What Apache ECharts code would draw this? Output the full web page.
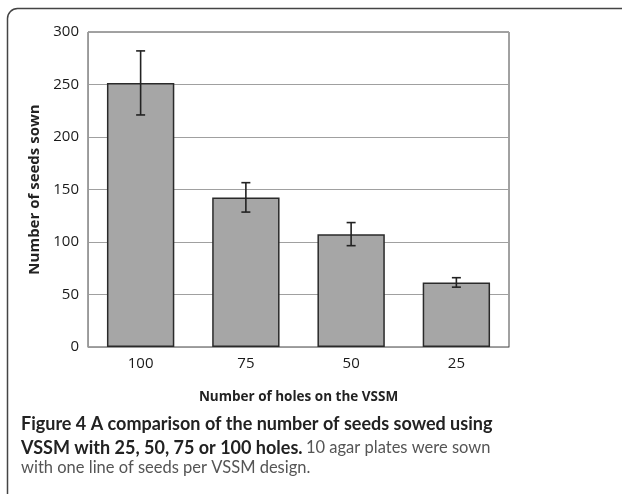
<!DOCTYPE html>
<html><head><meta charset="utf-8">
<script src="https://cdn.jsdelivr.net/npm/echarts@6/dist/echarts.min.js"></script>
<style>html,body{margin:0;padding:0;background:#fff}#c{width:622px;height:494px}</style>
</head><body><div id="c"></div>
<script>
const categories = ['100', '75', '50', '25'];
const means = [251.5, 142.5, 107.5, 61.5];
const errors = [30.5, 14, 11, 4.5];
const yTicks = [0, 50, 100, 150, 200, 250, 300];

const chart = echarts.init(document.getElementById('c'));
const font = '"Open Sans", "Noto Sans", sans-serif';
const capFont = 'Lato, "Open Sans", sans-serif';
chart.setOption({
  animation: false,
  grid: { left: 88, right: 113, top: 32, bottom: 147, show: true, borderColor: '#444', borderWidth: 1 },
  xAxis: {
    type: 'category', data: categories,
    axisLine: { lineStyle: { color: '#999', width: 1 } },
    axisTick: { show: false },
    axisLabel: { color: '#1a1a1a', fontSize: 15, fontFamily: font, margin: 9 },
    name: 'Number of holes on the VSSM', nameLocation: 'middle', nameGap: 43,
    nameTextStyle: { color: '#222', fontSize: 13.5, fontWeight: 'bold', fontFamily: font }
  },
  yAxis: {
    type: 'value', min: yTicks[0], max: yTicks[yTicks.length - 1], interval: 50,
    axisLine: { show: true, lineStyle: { color: '#999', width: 1 } },
    axisTick: { show: false },
    splitLine: { lineStyle: { color: '#a0a0a0', width: 1.2 } },
    axisLabel: { color: '#1a1a1a', fontSize: 15, fontFamily: font, margin: 9 },
    name: 'Number of seeds sown', nameLocation: 'middle', nameGap: 46,
    nameTextStyle: { color: '#222', fontSize: 15, fontWeight: 'bold', fontFamily: '"Open Sans", sans-serif' }
  },
  series: [
    {
      type: 'bar', data: means, barWidth: '64%',
      itemStyle: { color: '#a6a6a6', borderColor: '#2a2a2a', borderWidth: 1.5 }
    },
    {
      type: 'custom',
      data: means.map((m, i) => [i, m - errors[i], m + errors[i]]),
      renderItem: function (params, api) {
        const lo = api.coord([api.value(0), api.value(1)]);
        const hi = api.coord([api.value(0), api.value(2)]);
        const hw = 4.5;
        const st = { stroke: '#222', lineWidth: 1.6 };
        return { type: 'group', children: [
          { type: 'line', shape: { x1: lo[0], y1: lo[1], x2: hi[0], y2: hi[1] }, style: st },
          { type: 'line', shape: { x1: lo[0] - hw, y1: lo[1], x2: lo[0] + hw, y2: lo[1] }, style: st },
          { type: 'line', shape: { x1: hi[0] - hw, y1: hi[1], x2: hi[0] + hw, y2: hi[1] }, style: st }
        ]};
      },
      z: 10
    }
  ],
  graphic: [
    { type: 'rect', shape: { x: 7.5, y: 8.5, width: 640, height: 520, r: 10 }, style: { fill: 'none', stroke: '#444', lineWidth: 1.5 }, silent: true },
    { type: 'text', left: 21, top: 415,
      style: { text: 'Figure 4 A comparison of the number of seeds sowed using', fontSize: 18, fontWeight: 'bold', fontFamily: capFont, fill: '#222' } },
    { type: 'text', left: 21, top: 439,
      style: {
        text: '{b|VSSM with 25, 50, 75 or 100 holes.} {n|10 agar plates were sown}',
        rich: {
          b: { fontSize: 18, fontWeight: 'bold', fontFamily: capFont, fill: '#222' },
          n: { fontSize: 16.5, fontFamily: capFont, fill: '#555' }
        }
      } },
    { type: 'text', left: 21, top: 459,
      style: { text: 'with one line of seeds per VSSM design.', fontSize: 16.5, fontFamily: capFont, fill: '#555' } }
  ]
});
</script></body></html>
